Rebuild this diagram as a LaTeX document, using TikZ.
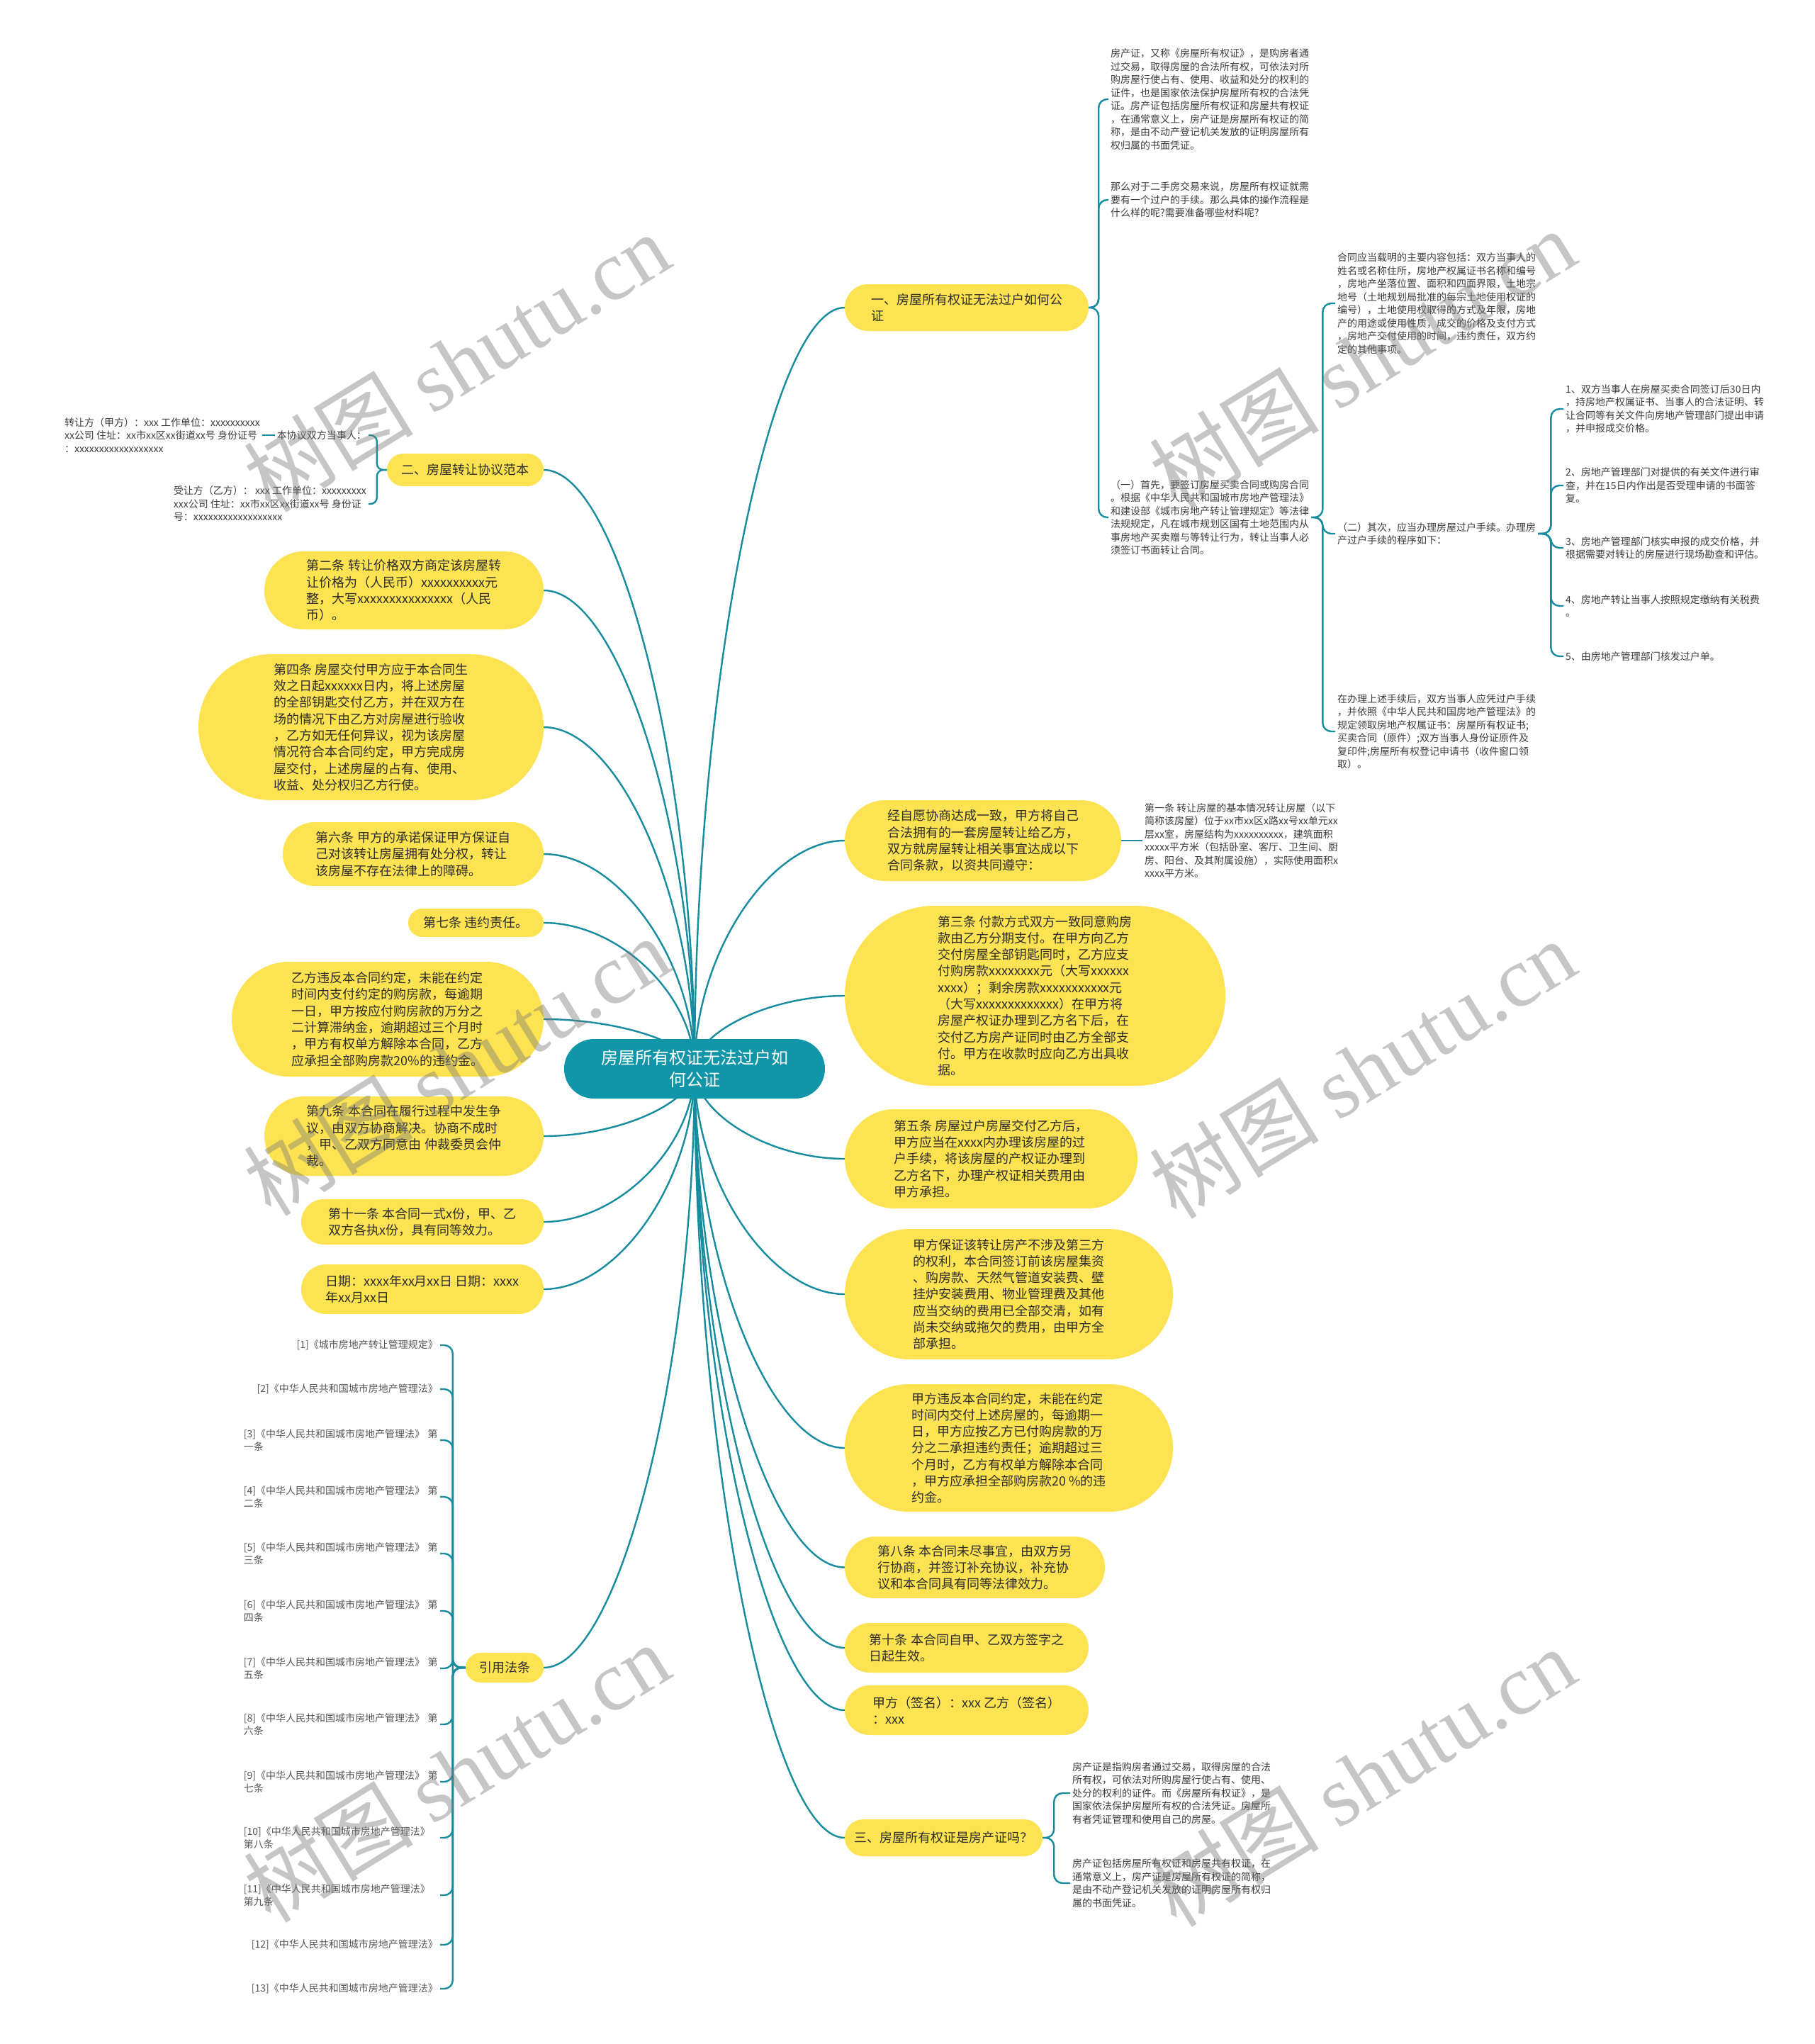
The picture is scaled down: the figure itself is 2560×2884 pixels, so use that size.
\documentclass[tikz,border=0pt]{standalone}
\usepackage{fontspec}
\setmainfont{Noto Sans CJK SC}
\newfontfamily\wmserif{Liberation Serif}
\usetikzlibrary{calc}
\definecolor{yel}{RGB}{253,227,82}
\definecolor{tealline}{RGB}{22,140,158}
\definecolor{rootfill}{RGB}{16,150,168}
\definecolor{txtdark}{RGB}{45,45,45}
\definecolor{txtsmall}{RGB}{60,60,60}
\definecolor{txtref}{RGB}{85,85,85}
\definecolor{wmgray}{RGB}{120,120,120}
\newcommand\ynfont{\fontsize{18}{23.3}\selectfont}
\newcommand\smfont{\fontsize{14}{18.5}\selectfont}
\newcommand\rtfont{\fontsize{24}{31}\selectfont}
\pgfdeclarelayer{bg}
\pgfsetlayers{bg,main}
\begin{document}
\begin{tikzpicture}[x=1pt,y=-1pt,
  conn/.style={draw=tealline, line width=2.4pt},
  brk/.style={conn, rounded corners=12pt},
  ynode/.style={fill=yel, text=txtdark, font=\ynfont, align=left, inner sep=0pt},
  smalltxt/.style={text=txtsmall, font=\smfont, align=left, inner sep=3pt, anchor=west},
  reftxt/.style={text=txtref, font=\smfont, align=left, inner sep=3pt, anchor=east},
  reftw/.style={reftxt, text width=274pt},
  wm/.style={text=wmgray, text opacity=0.42, font=\fontsize{120}{120}\selectfont, rotate=31.6},
]
\useasboundingbox (0,0) rectangle (2560,2884);

% root
\node[fill=rootfill, text=white, font=\rtfont, align=center, inner sep=0pt,
  minimum width=368pt, minimum height=84pt, rounded corners=42pt] (root) at (980,1508)
  {房屋所有权证无法过户如\\何公证};

% ---------------- right side ----------------
\node[ynode, minimum width=344pt, minimum height=66pt, rounded corners=33pt] (R1) at (1364,434)
  {一、房屋所有权证无法过户如何公\\证};
\node[ynode, minimum width=390pt, minimum height=114pt, rounded corners=57pt] (R2) at (1387,1186)
  {经自愿协商达成一致，甲方将自己\\合法拥有的一套房屋转让给乙方，\\双方就房屋转让相关事宜达成以下\\合同条款，以资共同遵守：};
\node[ynode, minimum width=537pt, minimum height=254pt, rounded corners=127pt] (R3) at (1460.5,1405)
  {第三条 付款方式双方一致同意购房\\款由乙方分期支付。在甲方向乙方\\交付房屋全部钥匙同时，乙方应支\\付购房款xxxxxxxx元（大写xxxxxx\\xxxx）；剩余房款xxxxxxxxxxx元\\（大写xxxxxxxxxxxxx）在甲方将\\房屋产权证办理到乙方名下后，在\\交付乙方房产证同时由乙方全部支\\付。甲方在收款时应向乙方出具收\\据。};
\node[ynode, minimum width=413pt, minimum height=140pt, rounded corners=70pt] (R4) at (1398.5,1635)
  {第五条 房屋过户房屋交付乙方后，\\甲方应当在xxxx内办理该房屋的过\\户手续，将该房屋的产权证办理到\\乙方名下，办理产权证相关费用由\\甲方承担。};
\node[ynode, minimum width=463pt, minimum height=184pt, rounded corners=92pt] (R5) at (1423.5,1826)
  {甲方保证该转让房产不涉及第三方\\的权利，本合同签订前该房屋集资\\、购房款、天然气管道安装费、壁\\挂炉安装费用、物业管理费及其他\\应当交纳的费用已全部交清，如有\\尚未交纳或拖欠的费用，由甲方全\\部承担。};
\node[ynode, minimum width=463pt, minimum height=180pt, rounded corners=90pt] (R6) at (1423.5,2043)
  {甲方违反本合同约定，未能在约定\\时间内交付上述房屋的，每逾期一\\日，甲方应按乙方已付购房款的万\\分之二承担违约责任；逾期超过三\\个月时，乙方有权单方解除本合同\\，甲方应承担全部购房款20 \%的违\\约金。};
\node[ynode, minimum width=367pt, minimum height=87pt, rounded corners=43pt] (R7) at (1375.5,2211.5)
  {第八条 本合同未尽事宜，由双方另\\行协商，并签订补充协议，补充协\\议和本合同具有同等法律效力。};
\node[ynode, minimum width=344pt, minimum height=70pt, rounded corners=35pt] (R8) at (1364,2325)
  {第十条 本合同自甲、乙双方签字之\\日起生效。};
\node[ynode, minimum width=344pt, minimum height=70pt, rounded corners=35pt] (R9) at (1364,2413)
  {甲方（签名）：xxx 乙方（签名）\\：xxx};
\node[ynode, minimum width=279pt, minimum height=52pt, rounded corners=26pt] (R10) at (1331.5,2593)
  {三、房屋所有权证是房产证吗？};

% R1 children
\node[smalltxt] (T1) at (1564,140)
  {房产证，又称《房屋所有权证》，是购房者通\\过交易，取得房屋的合法所有权，可依法对所\\购房屋行使占有、使用、收益和处分的权利的\\证件，也是国家依法保护房屋所有权的合法凭\\证。房产证包括房屋所有权证和房屋共有权证\\，在通常意义上，房产证是房屋所有权证的简\\称，是由不动产登记机关发放的证明房屋所有\\权归属的书面凭证。};
\node[smalltxt] (T2) at (1564,282)
  {那么对于二手房交易来说，房屋所有权证就需\\要有一个过户的手续。那么具体的操作流程是\\什么样的呢?需要准备哪些材料呢?};
\node[smalltxt] (T3) at (1564,730)
  {（一）首先，要签订房屋买卖合同或购房合同\\。根据《中华人民共和国城市房地产管理法》\\和建设部《城市房地产转让管理规定》等法律\\法规规定，凡在城市规划区国有土地范围内从\\事房地产买卖赠与等转让行为，转让当事人必\\须签订书面转让合同。};
\node[smalltxt] (T3a) at (1884,428)
  {合同应当载明的主要内容包括：双方当事人的\\姓名或名称住所，房地产权属证书名称和编号\\，房地产坐落位置、面积和四面界限，土地宗\\地号（土地规划局批准的每宗土地使用权证的\\编号），土地使用权取得的方式及年限，房地\\产的用途或使用性质，成交的价格及支付方式\\，房地产交付使用的时间，违约责任，双方约\\定的其他事项。};
\node[smalltxt] (T3b) at (1884,753)
  {（二）其次，应当办理房屋过户手续。办理房\\产过户手续的程序如下：};
\node[smalltxt] (T3c) at (1884,1032)
  {在办理上述手续后，双方当事人应凭过户手续\\，并依照《中华人民共和国房地产管理法》的\\规定领取房地产权属证书：房屋所有权证书;\\买卖合同（原件）;双方当事人身份证原件及\\复印件;房屋所有权登记申请书（收件窗口领\\取）。};
\node[smalltxt] (S1) at (2206,577)
  {1、双方当事人在房屋买卖合同签订后30日内\\，持房地产权属证书、当事人的合法证明、转\\让合同等有关文件向房地产管理部门提出申请\\，并申报成交价格。};
\node[smalltxt] (S2) at (2206,685)
  {2、房地产管理部门对提供的有关文件进行审\\查，并在15日内作出是否受理申请的书面答\\复。};
\node[smalltxt] (S3) at (2206,773)
  {3、房地产管理部门核实申报的成交价格，并\\根据需要对转让的房屋进行现场勘查和评估。};
\node[smalltxt] (S4) at (2206,855)
  {4、房地产转让当事人按照规定缴纳有关税费\\。};
\node[smalltxt] (S5) at (2206,926)
  {5、由房地产管理部门核发过户单。};

% R2 child
\node[smalltxt] (F1) at (1612,1186)
  {第一条 转让房屋的基本情况转让房屋（以下\\简称该房屋）位于xx市xx区x路xx号xx单元xx\\层xx室，房屋结构为xxxxxxxxxx，建筑面积\\xxxxx平方米（包括卧室、客厅、卫生间、厨\\房、阳台、及其附属设施），实际使用面积x\\xxxx平方米。};

% R10 children
\node[smalltxt] (T10a) at (1510,2530)
  {房产证是指购房者通过交易，取得房屋的合法\\所有权，可依法对所购房屋行使占有、使用、\\处分的权利的证件。而《房屋所有权证》，是\\国家依法保护房屋所有权的合法凭证。房屋所\\有者凭证管理和使用自己的房屋。};
\node[smalltxt] (T10b) at (1510,2657)
  {房产证包括房屋所有权证和房屋共有权证，在\\通常意义上，房产证是房屋所有权证的简称，\\是由不动产登记机关发放的证明房屋所有权归\\属的书面凭证。};

% ---------------- left side ----------------
\node[ynode, minimum width=221pt, minimum height=46pt, rounded corners=23pt] (L1) at (656.5,663)
  {二、房屋转让协议范本};
\node[ynode, minimum width=394pt, minimum height=110pt, rounded corners=55pt] (L2) at (570,833)
  {第二条 转让价格双方商定该房屋转\\让价格为（人民币）xxxxxxxxxx元\\整，大写xxxxxxxxxxxxxxx（人民\\币）。};
\node[ynode, minimum width=487pt, minimum height=206pt, rounded corners=103pt] (L3) at (523.5,1026)
  {第四条 房屋交付甲方应于本合同生\\效之日起xxxxxx日内，将上述房屋\\的全部钥匙交付乙方，并在双方在\\场的情况下由乙方对房屋进行验收\\，乙方如无任何异议，视为该房屋\\情况符合本合同约定，甲方完成房\\屋交付，上述房屋的占有、使用、\\收益、处分权归乙方行使。};
\node[ynode, minimum width=368pt, minimum height=90pt, rounded corners=45pt] (L4) at (583,1205)
  {第六条 甲方的承诺保证甲方保证自\\己对该转让房屋拥有处分权，转让\\该房屋不存在法律上的障碍。};
\node[ynode, minimum width=191pt, minimum height=40pt, rounded corners=20pt] (L5) at (671.5,1302)
  {第七条 违约责任。};
\node[ynode, minimum width=440pt, minimum height=162pt, rounded corners=81pt] (L6) at (547,1438)
  {乙方违反本合同约定，未能在约定\\时间内支付约定的购房款，每逾期\\一日，甲方按应付购房款的万分之\\二计算滞纳金，逾期超过三个月时\\，甲方有权单方解除本合同，乙方\\应承担全部购房款20\%的违约金。};
\node[ynode, minimum width=394pt, minimum height=112pt, rounded corners=56pt] (L7) at (570,1603)
  {第九条 本合同在履行过程中发生争\\议，由双方协商解决。协商不成时\\，甲、乙双方同意由 仲裁委员会仲\\裁。};
\node[ynode, minimum width=342pt, minimum height=64pt, rounded corners=32pt] (L8) at (596,1724)
  {第十一条 本合同一式x份，甲、乙\\双方各执x份，具有同等效力。};
\node[ynode, minimum width=342pt, minimum height=70pt, rounded corners=35pt] (L9) at (596,1819)
  {日期：xxxx年xx月xx日 日期：xxxx\\年xx月xx日};
\node[ynode, minimum width=110pt, minimum height=42pt, rounded corners=21pt] (L10) at (712,2353)
  {引用法条};

% L1 children
\node[smalltxt, anchor=east] (A) at (520,614) {本协议双方当事人：};
\node[smalltxt, anchor=east] (Z) at (370,614)
  {转让方（甲方）：xxx 工作单位：xxxxxxxxxx\\xx公司 住址：xx市xx区xx街道xx号 身份证号\\：xxxxxxxxxxxxxxxxxx};
\node[smalltxt, anchor=east] (B) at (520,711)
  {受让方（乙方）： xxx 工作单位：xxxxxxxxx\\xxx公司 住址：xx市xx区xx街道xx号 身份证\\号：xxxxxxxxxxxxxxxxxx};

% references
\node[reftxt] (F01) at (621,1898) {[1]《城市房地产转让管理规定》};
\node[reftxt] (F02) at (621,1960) {[2]《中华人民共和国城市房地产管理法》};
\node[reftw] (F03) at (621,2032) {[3]《中华人民共和国城市房地产管理法》 第\\一条};
\node[reftw] (F04) at (621,2112) {[4]《中华人民共和国城市房地产管理法》 第\\二条};
\node[reftw] (F05) at (621,2192) {[5]《中华人民共和国城市房地产管理法》 第\\三条};
\node[reftw] (F06) at (621,2273) {[6]《中华人民共和国城市房地产管理法》 第\\四条};
\node[reftw] (F07) at (621,2354) {[7]《中华人民共和国城市房地产管理法》 第\\五条};
\node[reftw] (F08) at (621,2433) {[8]《中华人民共和国城市房地产管理法》 第\\六条};
\node[reftw] (F09) at (621,2514) {[9]《中华人民共和国城市房地产管理法》 第\\七条};
\node[reftw] (F10) at (621,2593) {[10]《中华人民共和国城市房地产管理法》\\第八条};
\node[reftw] (F11) at (621,2674) {[11]《中华人民共和国城市房地产管理法》\\第九条};
\node[reftxt] (F12) at (621,2744) {[12]《中华人民共和国城市房地产管理法》};
\node[reftxt] (F13) at (621,2806) {[13]《中华人民共和国城市房地产管理法》};

% ---------------- connectors ----------------
\begin{pgfonlayer}{bg}
\fill[white] (0,0) rectangle (2560,2884);
\foreach \n in {R1,R2,R3,R4,R5,R6,R7,R8,R9,R10} {
  \draw[conn] (root.center) .. controls ($(root.center)!0.5!(root.center|-\n.west)$)
    and ($(\n.west)!0.5!(root.center|-\n.west)$) .. (\n.west);
}
\foreach \n in {L1,L2,L3,L4,L5,L6,L7,L8,L9,L10} {
  \draw[conn] (root.center) .. controls ($(root.center)!0.5!(root.center|-\n.east)$)
    and ($(\n.east)!0.5!(root.center|-\n.east)$) .. (\n.east);
}
\foreach \c in {T1,T2,T3} { \draw[brk] (R1.east) -- ++(14,0) |- (\c.west); }
\foreach \c in {T3a,T3b,T3c} { \draw[brk] (T3.east) -- ++(16,0) |- (\c.west); }
\foreach \c in {S1,S2,S3,S4,S5} { \draw[brk] (T3b.east) -- ++(18,0) |- (\c.west); }
\draw[conn] (R2.east) -- (F1.west);
\foreach \c in {T10a,T10b} { \draw[brk] (R10.east) -- ++(16,0) |- (\c.west); }
\foreach \c in {A,B} { \draw[conn, rounded corners=9pt] (L1.west) -- ++(-14,0) |- (\c.east); }
\draw[conn] (A.west) -- (Z.east);
\foreach \c in {F01,F02,F03,F04,F05,F06,F07,F08,F09,F10,F11,F12,F13} {
  \draw[brk] (L10.west) -- ++(-18,0) |- (\c.east);
}
\end{pgfonlayer}

% watermarks
\node[wm] (wm1) at (644,511) {树图 {\wmserif shutu.cn}};
\node[wm] (wm2) at (1922,506) {树图 {\wmserif shutu.cn}};
\node[wm] (wm3) at (644,1504) {树图 {\wmserif shutu.cn}};
\node[wm] (wm4) at (1922,1508) {树图 {\wmserif shutu.cn}};
\node[wm] (wm5) at (644,2501) {树图 {\wmserif shutu.cn}};
\node[wm] (wm6) at (1922,2507) {树图 {\wmserif shutu.cn}};
\end{tikzpicture}
\end{document}
